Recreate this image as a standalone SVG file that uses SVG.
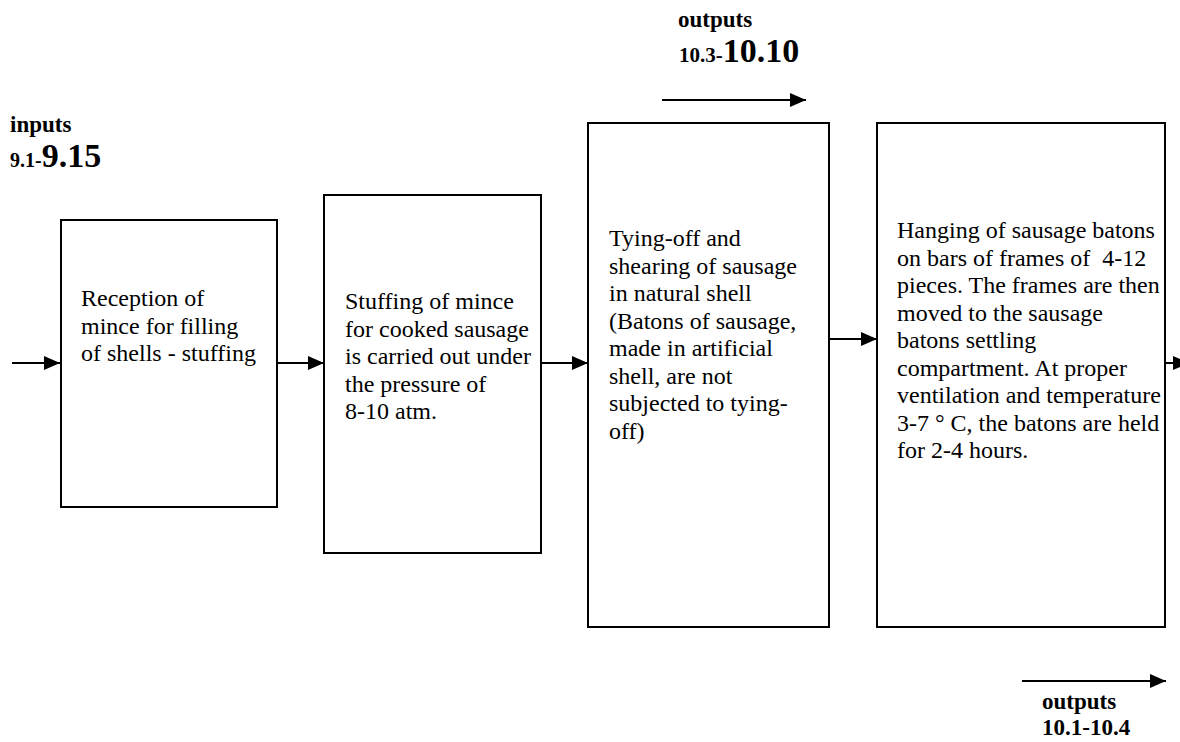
<svg xmlns="http://www.w3.org/2000/svg" width="1180" height="742" viewBox="0 0 1180 742">
<style>
.box{fill:#fff;stroke:#000;stroke-width:2}
.t{font-family:"Liberation Serif","Times New Roman",serif;font-size:24px;fill:#000;white-space:pre}
.lb{font-family:"Liberation Serif","Times New Roman",serif;font-weight:bold;fill:#000}
.c{stroke:#000;stroke-width:2;fill:none;marker-end:url(#ah)}
</style>
<defs>
<marker id="ah" markerUnits="userSpaceOnUse" markerWidth="16" markerHeight="14" refX="16" refY="7" orient="auto">
<path d="M0,0 L16,7 L0,14 z" fill="#000"/>
</marker>
</defs>
<rect width="1180" height="742" fill="#fff"/>
<g id="connectors">
<line class="c" x1="12" y1="363" x2="60" y2="363"/>
<line class="c" x1="277" y1="363" x2="324" y2="363"/>
<line class="c" x1="541" y1="363" x2="588" y2="363"/>
<line class="c" x1="829" y1="339" x2="877" y2="339"/>
<line class="c" x1="1165" y1="363" x2="1189" y2="363"/>
<line class="c" x1="662" y1="100" x2="806" y2="100"/>
<line class="c" x1="1022" y1="681" x2="1166" y2="681"/>
</g>
<g id="label-inputs">
<text class="lb" x="10" y="132" font-size="23">inputs</text>
<text class="lb" x="10" y="167"><tspan font-size="20">9.1-</tspan><tspan font-size="34">9.15</tspan></text>
</g>
<g id="label-outputs-top">
<text class="lb" x="678" y="27" font-size="23">outputs</text>
<text class="lb" x="679" y="62"><tspan font-size="21">10.3-</tspan><tspan font-size="34">10.10</tspan></text>
</g>
<g id="label-outputs-bottom">
<text class="lb" x="1042" y="709" font-size="23">outputs</text>
<text class="lb" x="1042" y="735" font-size="23">10.1-10.4</text>
</g>
<g id="node1">
<rect class="box" x="61" y="220" width="216" height="287"/>
<text class="t"><tspan x="81" y="306">Reception of</tspan><tspan x="81" y="333.5">mince for filling</tspan><tspan x="81" y="361">of shells - stuffing</tspan></text>
</g>
<g id="node2">
<rect class="box" x="324" y="195" width="217" height="358"/>
<text class="t"><tspan x="345" y="309">Stuffing of mince</tspan><tspan x="345" y="336.5">for cooked sausage</tspan><tspan x="345" y="364">is carried out under</tspan><tspan x="345" y="391.5">the pressure of</tspan><tspan x="345" y="419">8-10 atm.</tspan></text>
</g>
<g id="node3">
<rect class="box" x="588" y="123" width="241" height="504"/>
<text class="t"><tspan x="609" y="246">Tying-off and</tspan><tspan x="609" y="273.5">shearing of sausage</tspan><tspan x="609" y="301">in natural shell</tspan><tspan x="609" y="328.5">(Batons of sausage,</tspan><tspan x="609" y="356">made in artificial</tspan><tspan x="609" y="383.5">shell, are not</tspan><tspan x="609" y="411">subjected to tying-</tspan><tspan x="609" y="438.5">off)</tspan></text>
</g>
<g id="node4">
<rect class="box" x="877" y="123" width="288" height="504"/>
<text class="t"><tspan x="897" y="238">Hanging of sausage batons</tspan><tspan x="897" y="265.5">on bars of frames of  4-12</tspan><tspan x="897" y="293">pieces. The frames are then</tspan><tspan x="897" y="320.5">moved to the sausage</tspan><tspan x="897" y="348">batons settling</tspan><tspan x="897" y="375.5">compartment. At proper</tspan><tspan x="897" y="403">ventilation and temperature</tspan><tspan x="897" y="430.5">3-7 ° C, the batons are held</tspan><tspan x="897" y="458">for 2-4 hours.</tspan></text>
</g>
</svg>
